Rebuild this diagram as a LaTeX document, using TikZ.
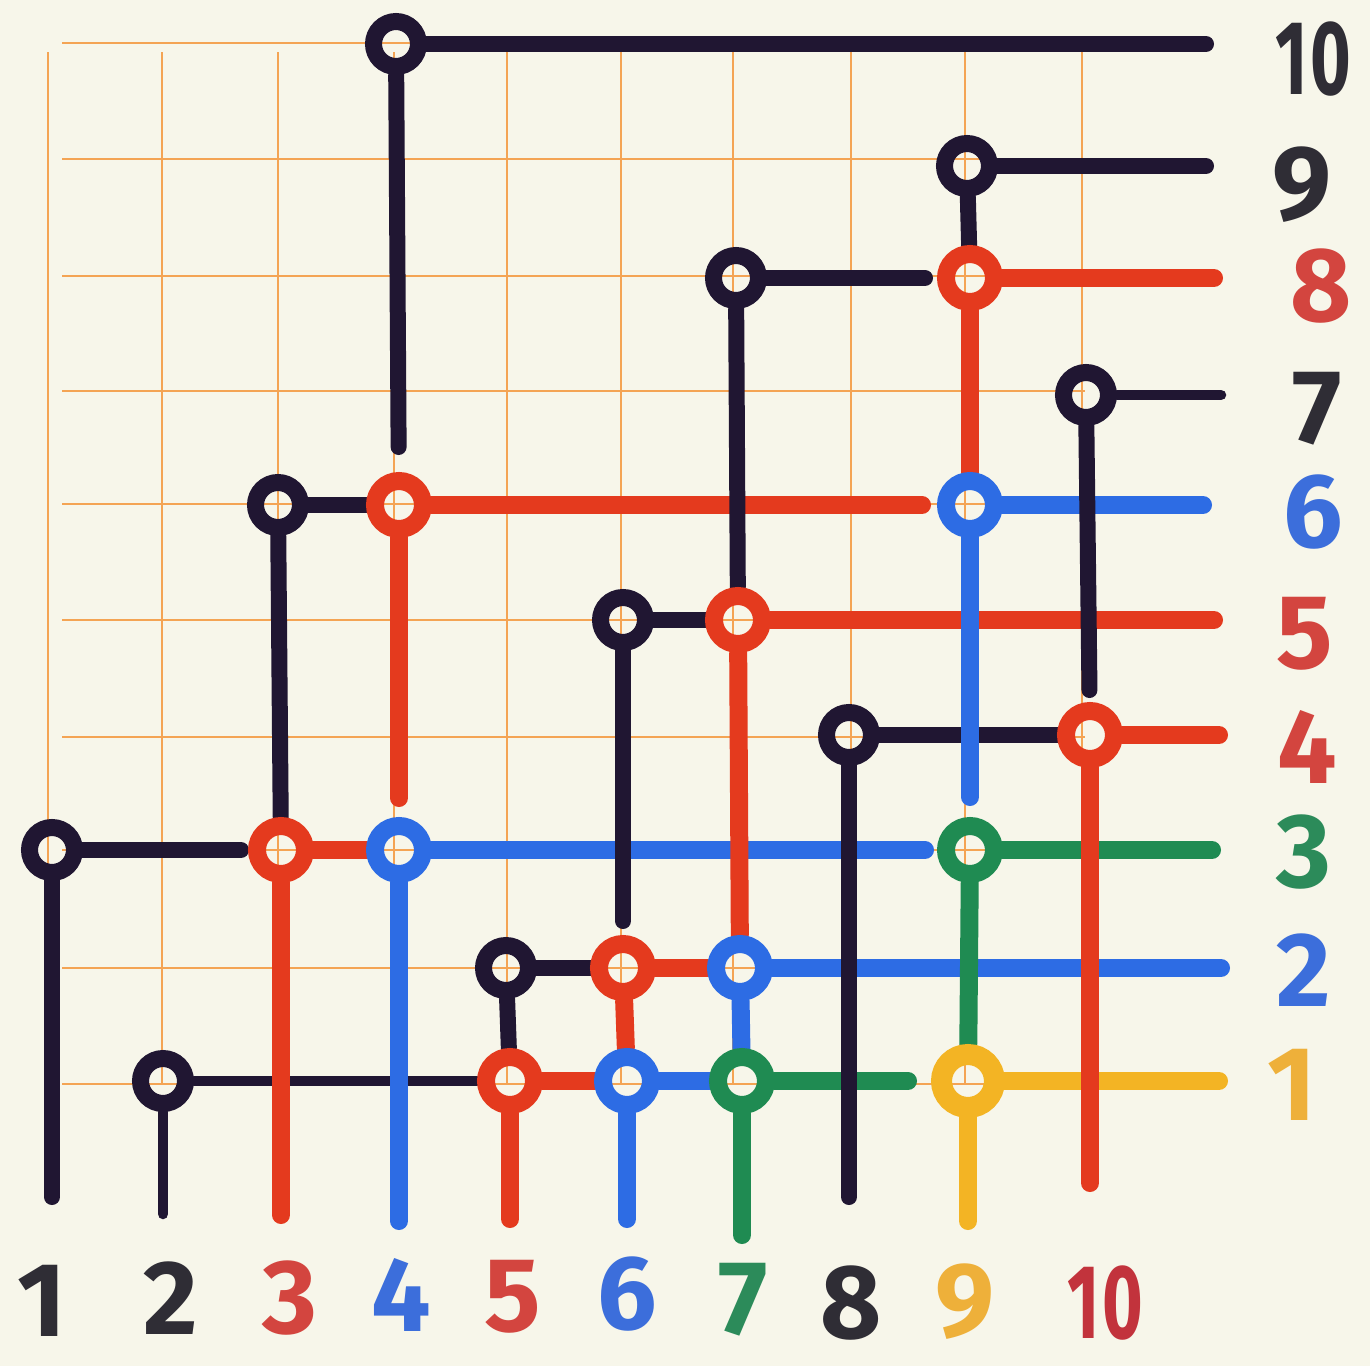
\documentclass[tikz,border=0pt]{standalone}
\usepackage{fontspec}
\setmainfont{Fira Sans}
\pgfdeclarelayer{grid}
\pgfdeclarelayer{lines}
\pgfsetlayers{grid,lines,main}
\definecolor{paper}{HTML}{F7F6EA}
\definecolor{gridc}{HTML}{F4A454}
\definecolor{mk}{HTML}{201632}
\definecolor{rd}{HTML}{E43A1E}
\definecolor{bl}{HTML}{2D6CE4}
\definecolor{gr}{HTML}{1F8B52}
\definecolor{ye}{HTML}{F3B424}
\definecolor{labdk}{HTML}{2F2D35}
\definecolor{labrd}{HTML}{D3453F}
\definecolor{labbl}{HTML}{3C6EDB}
\definecolor{labgr}{HTML}{2C8B5A}
\definecolor{labye}{HTML}{EEB03A}
\definecolor{labrdd}{HTML}{C2333C}
\newcommand{\ten}{\scalebox{0.66}[1]{1\kern0.04em0}}
\begin{document}
\begin{tikzpicture}[x=0.02cm,y=-0.02cm,
  gridline/.style={draw=gridc,line width=0.05cm},
  bring/.style={circle,draw=mk,inner sep=0pt,minimum size=0.9cm,line width=0.34cm},
  cring/.style={circle,draw=#1,inner sep=0pt,minimum size=0.96cm,line width=0.36cm},
  yring/.style={circle,draw=ye,inner sep=0pt,minimum size=1.06cm,line width=0.42cm},
  seg/.style={line width=0.36cm,line cap=round,draw=#1},
  bseg/.style={line width=0.32cm,line cap=round,draw=mk},
  tseg/.style={line width=0.21cm,line cap=round,draw=mk},
  lab/.style={inner sep=0pt,text height=1.45cm,text depth=0pt,font=\fontsize{60}{60}\selectfont\bfseries,text=#1},
]
\useasboundingbox (0,0) rectangle (1370,1366);
\begin{pgfonlayer}{grid}
\fill[paper] (0,0) rectangle (1370,1366);
\foreach \x in {48,162,278,394,507,621,733,851,965,1082} \draw[gridline] (\x,52) -- (\x,1084);
\foreach \y in {43,159,276,391,504,620,737,850,968,1084} \draw[gridline] (62,\y) -- (1085,\y);
\end{pgfonlayer}

% black start rings
\node[bring] (c4r10) at (396,44) {};
\node[bring] (c9r9) at (967,166) {};
\node[bring] (c7r8) at (736,278) {};
\node[bring] (c10r7) at (1086,395) {};
\node[bring] (c3r6) at (278,505) {};
\node[bring] (c6r5) at (623,620) {};
\node[bring] (c8r4) at (849,735) {};
\node[bring] (c1r3) at (52,850) {};
\node[bring] (c5r2) at (506,968) {};
\node[bring] (c2r1) at (163,1081) {};
% coloured rings
\node[cring=rd] (c4r6) at (399,505) {};
\node[cring=rd] (c9r8) at (970,278) {};
\node[cring=bl] (c9r6) at (970,505) {};
\node[cring=rd] (c7r5) at (738,620) {};
\node[cring=rd] (c10r4) at (1090,735) {};
\node[cring=rd] (c3r3) at (281,850) {};
\node[cring=bl] (c4r3) at (399,850) {};
\node[cring=gr] (c9r3) at (970,850) {};
\node[cring=rd] (c6r2) at (623,968) {};
\node[cring=bl] (c7r2) at (740,968) {};
\node[cring=rd] (c5r1) at (510,1081) {};
\node[cring=bl] (c6r1) at (627,1081) {};
\node[cring=gr] (c7r1) at (742,1081) {};
\node[yring] (c9r1) at (968,1081) {};

% free ends
\coordinate (e10) at (1206,44);
\coordinate (e9) at (1206,166);
\coordinate (e8) at (1214,278);
\coordinate (e7) at (1221,395);
\coordinate (e6) at (1203,505);
\coordinate (e5) at (1214,620);
\coordinate (e4) at (1219,735);
\coordinate (e3) at (1212,850);
\coordinate (e2) at (1221,968);
\coordinate (e1) at (1219,1081);
\coordinate (s1) at (52,1197);
\coordinate (s2) at (163,1214);
\coordinate (s3) at (281,1215);
\coordinate (s4) at (399,1221);
\coordinate (s5) at (510,1219);
\coordinate (s6) at (627,1219);
\coordinate (s7) at (742,1235);
\coordinate (s8) at (849,1197);
\coordinate (s9) at (968,1221);
\coordinate (s10) at (1090,1183);

\begin{pgfonlayer}{lines}
% rows
\draw[bseg] (c4r10) -- (e10);
\draw[bseg] (c9r9) -- (e9);
\draw[bseg,shorten >=0.24cm] (c7r8) -- (c9r8);
\draw[seg=rd] (c9r8) -- (e8);
\draw[tseg] (c10r7) -- (e7);
\draw[bseg] (c3r6) -- (c4r6);
\draw[seg=rd,shorten >=0.3cm] (c4r6) -- (c9r6);
\draw[seg=bl] (c9r6) -- (e6);
\draw[bseg] (c6r5) -- (c7r5);
\draw[seg=rd] (c7r5) -- (e5);
\draw[bseg] (c8r4) -- (c10r4);
\draw[seg=rd] (c10r4) -- (e4);
\draw[bseg,shorten >=0.14cm] (c1r3) -- (c3r3);
\draw[seg=rd] (c3r3) -- (c4r3);
\draw[seg=bl,shorten >=0.24cm] (c4r3) -- (c9r3);
\draw[seg=gr] (c9r3) -- (e3);
\draw[bseg] (c5r2) -- (c6r2);
\draw[seg=rd] (c6r2) -- (c7r2);
\draw[seg=bl] (c7r2) -- (e2);
\draw[tseg] (c2r1) -- (c5r1);
\draw[seg=rd] (c5r1) -- (c6r1);
\draw[seg=bl] (c6r1) -- (c7r1);
\draw[seg=gr,shorten >=0.46cm] (c7r1) -- (c9r1);
\draw[seg=ye] (c9r1) -- (e1);
% columns
\draw[bseg] (c1r3) -- (s1);
\draw[tseg] (c2r1) -- (s2);
\draw[bseg] (c3r6) -- (c3r3);
\draw[seg=rd] (c3r3) -- (s3);
\draw[bseg,shorten >=0.5cm] (c4r10) -- (c4r6);
\draw[seg=rd,shorten >=0.38cm] (c4r6) -- (c4r3);
\draw[seg=bl] (c4r3) -- (s4);
\draw[bseg] (c5r2) -- (c5r1);
\draw[seg=rd] (c5r1) -- (s5);
\draw[bseg,shorten >=0.28cm] (c6r5) -- (c6r2);
\draw[seg=rd] (c6r2) -- (c6r1);
\draw[seg=bl] (c6r1) -- (s6);
\draw[bseg] (c7r8) -- (c7r5);
\draw[seg=rd] (c7r5) -- (c7r2);
\draw[seg=bl] (c7r2) -- (c7r1);
\draw[seg=gr] (c7r1) -- (s7);
\draw[bseg] (c8r4) -- (s8);
\draw[bseg] (c9r9) -- (c9r8);
\draw[seg=rd] (c9r8) -- (c9r6);
\draw[seg=bl,shorten >=0.4cm] (c9r6) -- (c9r3);
\draw[seg=gr] (c9r3) -- (c9r1);
\draw[seg=ye] (c9r1) -- (s9);
\draw[bseg,shorten >=0.24cm] (c10r7) -- (c10r4);
\draw[seg=rd] (c10r4) -- (s10);
\end{pgfonlayer}

% bottom labels
\node[lab=labdk] (lb1) at (42,1300) {1};
\node[lab=labdk] (lb2) at (171,1298) {2};
\node[lab=labrd] (lb3) at (290,1297) {3};
\node[lab=labbl] (lb4) at (401,1295) {4};
\node[lab=labrd] (lb5) at (513,1295) {5};
\node[lab=labbl] (lb6) at (627,1293) {6};
\node[lab=labgr] (lb7) at (743,1298) {7};
\node[lab=labdk] (lb8) at (851,1302) {8};
\node[lab=labye] (lb9) at (965,1300) {9};
\node[lab=labrdd] (lb10) at (1105,1302) {\ten};
% right labels
\node[lab=labdk] (lr10) at (1313,58) {\ten};
\node[lab=labdk] (lr9) at (1302,183) {9};
\node[lab=labrd] (lr8) at (1321,285) {8};
\node[lab=labdk] (lr7) at (1317,407) {7};
\node[lab=labbl] (lr6) at (1313,511) {6};
\node[lab=labrd] (lr5) at (1305,632) {5};
\node[lab=labrd] (lr4) at (1307,747) {4};
\node[lab=labgr] (lr3) at (1304,851) {3};
\node[lab=labbl] (lr2) at (1304,970) {2};
\node[lab=labye] (lr1) at (1292,1084) {1};
\end{tikzpicture}
\end{document}
